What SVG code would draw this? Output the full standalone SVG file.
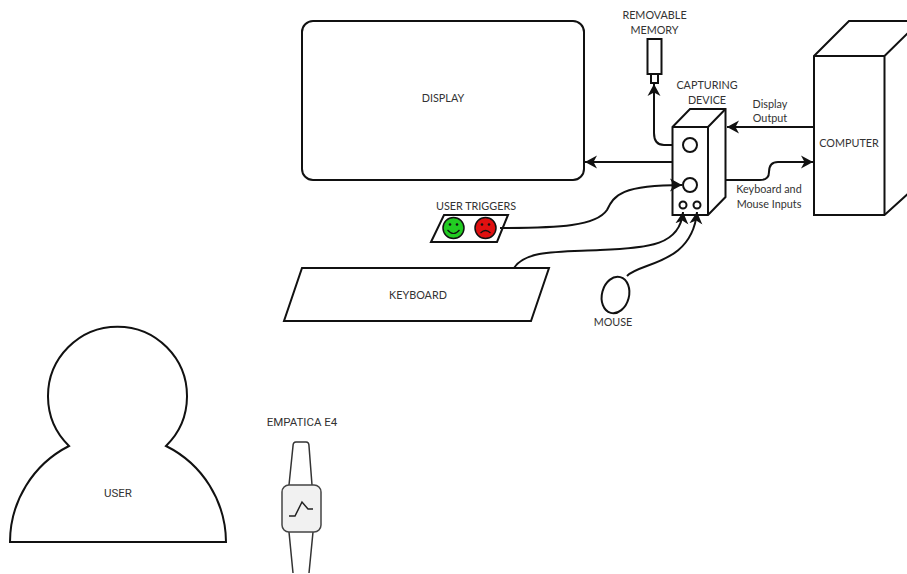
<svg xmlns="http://www.w3.org/2000/svg" width="907" height="574" viewBox="0 0 907 574">
<style>
text{font-family:"Lato","Open Sans","Liberation Sans",sans-serif;font-size:10.800px;fill:#333;text-anchor:middle}
.r{font-family:"Roboto","Liberation Sans",sans-serif;font-size:11.500px}
.s{fill:#fff;stroke:#111;stroke-width:2}
.c{fill:none;stroke:#111;stroke-width:2}
.a{marker-end:url(#ah)}
</style>
<defs>
<marker id="ah" markerUnits="userSpaceOnUse" markerWidth="14" markerHeight="14" refX="12" refY="7" orient="auto"><path d="M0 0.500L12 7L0 13.500L3.500 7Z" fill="#111"/></marker>
</defs>
<rect width="907" height="574" fill="#fff"/>
<g id="display"><rect class="s" x="302" y="21" width="282" height="159" rx="11"/><text x="443" y="102">DISPLAY</text></g>
<g id="memory"><rect class="s" x="647.500" y="39" width="14" height="35"/><rect class="s" x="651" y="74" width="7" height="9"/><text x="654.500" y="19">REMOVABLE</text><text x="654.500" y="34">MEMORY</text></g>
<g id="capturing-device">
<path class="s" d="M672.500 127L690 109H725.500V197L708 215H672.500Z"/>
<path class="c" d="M672.500 127H708V215M708 127L725.500 109"/>
<circle class="s" cx="690" cy="145" r="7"/><circle class="s" cx="690" cy="185" r="7"/><circle class="s" cx="683" cy="205" r="3.500"/><circle class="s" cx="697" cy="205" r="3.500"/>
<text x="707" y="89">CAPTURING</text><text x="707" y="104">DEVICE</text></g>
<g id="computer">
<path class="s" d="M814 56L849 21H910V192L884.500 215H814Z"/>
<path class="c" d="M814 56H884.500V215M884.500 56L910 31"/>
<text x="849" y="147">COMPUTER</text></g>
<g id="triggers"><path class="s" d="M431 242L444 215H508L497 242Z"/>
<circle cx="453.500" cy="228" r="10.500" fill="#22cc22" stroke="#111" stroke-width="1.500"/><circle cx="485.500" cy="228" r="10.500" fill="#e01010" stroke="#111" stroke-width="1.500"/>
<circle cx="450" cy="224.500" r="1.300" fill="#111"/><circle cx="457" cy="224.500" r="1.300" fill="#111"/><circle cx="482" cy="224.500" r="1.300" fill="#111"/><circle cx="489" cy="224.500" r="1.300" fill="#111"/>
<path d="M447.500 230Q453.500 237 459.500 230" fill="none" stroke="#111" stroke-width="1.200"/><path d="M480.500 233Q485.500 228 490.500 233" fill="none" stroke="#111" stroke-width="1.200"/>
<text x="476" y="210">USER TRIGGERS</text></g>
<g id="keyboard"><path class="s" d="M302 268H549L531 321H284Z"/><text x="418" y="298.500">KEYBOARD</text></g>
<g id="mouse"><ellipse class="s" cx="615.500" cy="295" rx="13.500" ry="18.500" transform="rotate(15 615.500 295)"/><text x="613" y="326">MOUSE</text></g>
<g id="user"><path class="s" d="M10 542A108 108 0 0 1 69 446A69.500 69.500 0 1 1 166 446A108 108 0 0 1 226 542Z"/><text class="r" x="118" y="497">USER</text></g>
<g id="empatica"><path d="M289 485L293 446Q293 442 296 442H306Q309 442 309 446L312 485M289 532L293 573M313 532L309 573" fill="none" stroke="#333" stroke-width="1.500"/>
<rect x="282" y="485" width="39" height="47" rx="7" fill="#f1f1f1" stroke="#444" stroke-width="1.500"/>
<path d="M289 516H295L302 502L308 509H313" fill="none" stroke="#222" stroke-width="1.500"/>
<text class="r" x="302" y="426">EMPATICA E4</text></g>
<g id="connectors">
<path class="c a" d="M814 127H727"/>
<path class="c a" d="M672 162H585"/>
<path class="c a" d="M672 145H664Q654 145 654 133V84"/>
<path class="c a" d="M726 180H760Q769 180 769 172Q769 162 778 162H813"/>
<path class="c a" d="M500 228C560 228 596 226 607 210C614 195 622 185 682 185"/>
<path class="c a" d="M514 268C525 250 560 252 600 250C650 248 680 245 683 212"/>
<path class="c a" d="M627 276C640 262 692 265 697 212"/>
</g>
<g id="labels"><text x="770" y="108">Display</text><text x="770" y="122">Output</text><text x="769" y="193">Keyboard and</text><text x="769" y="208">Mouse Inputs</text></g>
</svg>
